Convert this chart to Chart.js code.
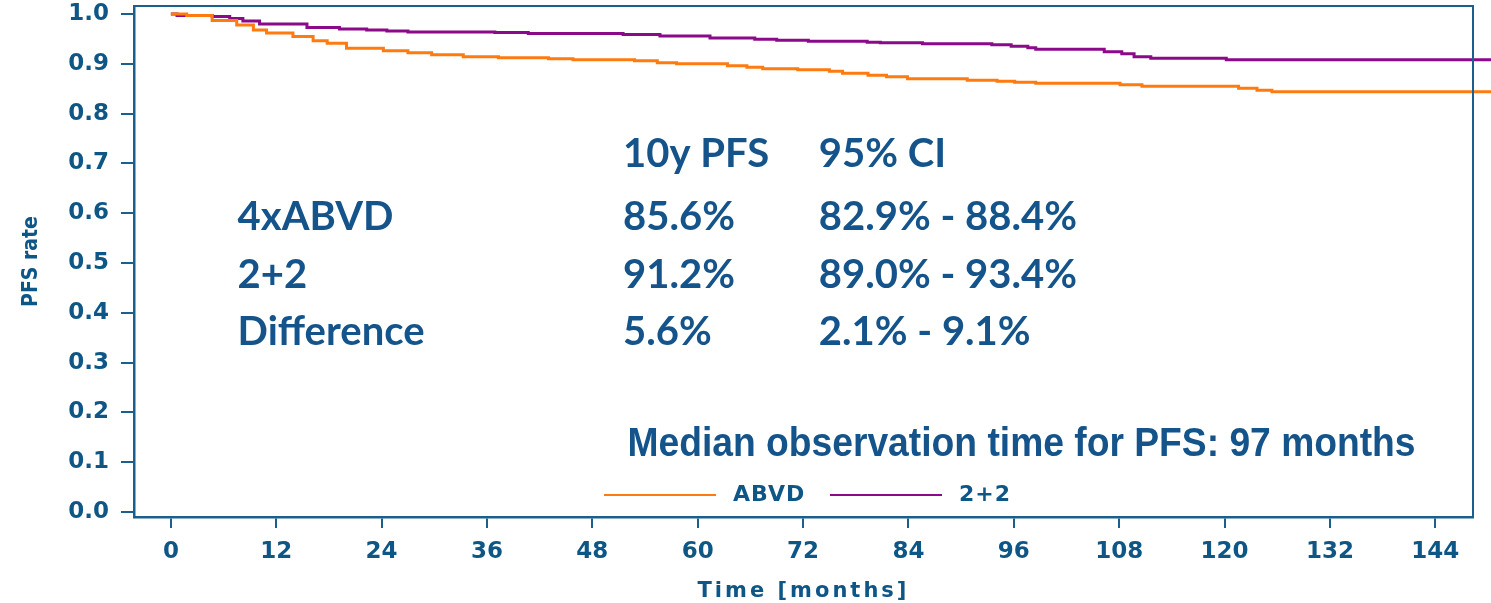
<!DOCTYPE html>
<html>
<head>
<meta charset="utf-8">
<script src="https://cdn.jsdelivr.net/npm/chart.js@4.4.1/dist/chart.umd.min.js"></script>
<style>
  html, body { margin:0; padding:0; background:#fff; }
  #wrap { width:1491px; height:603px; position:relative; }
</style>
</head>
<body>
<div id="wrap"><canvas id="pfsChart"></canvas></div>
<script>
'use strict';

// --- data (months, PFS rate) ---
const abvdMonths = [0, 1.8, 4.7, 7.5, 9.4, 10.9, 13.9, 16.2, 17.8, 20.0, 24.2, 27.0, 29.7, 33.3, 37.3, 43.0, 45.8, 52.8, 55.4, 57.6, 63.4, 65.6, 67.4, 71.4, 75.0, 76.5, 79.4, 81.5, 83.9, 90.7, 94.1, 96.1, 98.5, 108.1, 110.6, 121.6, 123.7, 125.4, 150.5];
const abvdPfs    = [1.0, 0.997, 0.987, 0.978, 0.968, 0.962, 0.955, 0.946, 0.941, 0.931, 0.926, 0.922, 0.918, 0.914, 0.912, 0.910, 0.908, 0.906, 0.902, 0.900, 0.896, 0.893, 0.890, 0.888, 0.885, 0.881, 0.877, 0.874, 0.870, 0.867, 0.865, 0.863, 0.861, 0.858, 0.855, 0.851, 0.847, 0.844, 0.844];

const twoTwoMonths = [0, 0.7, 4.7, 6.7, 8.2, 10.1, 15.5, 19.2, 22.3, 24.6, 27.0, 36.9, 40.7, 51.5, 55.7, 61.4, 66.5, 69.0, 72.6, 79.3, 80.8, 85.6, 93.5, 95.7, 97.6, 98.5, 106.3, 108.3, 109.7, 111.6, 120.2, 150.5];
const twoTwoPfs    = [1.0, 0.997, 0.995, 0.991, 0.986, 0.980, 0.973, 0.970, 0.968, 0.966, 0.964, 0.963, 0.961, 0.959, 0.956, 0.952, 0.949, 0.947, 0.945, 0.943, 0.942, 0.940, 0.938, 0.935, 0.932, 0.929, 0.924, 0.920, 0.914, 0.911, 0.908, 0.908];

const seriesNames = ['ABVD', '2+2'];
const xTicks = [0, 12, 24, 36, 48, 60, 72, 84, 96, 108, 120, 132, 144];
const yTicks = [0, 0.1, 0.2, 0.3, 0.4, 0.5, 0.6, 0.7, 0.8, 0.9, 1.0];
const xTitle = 'Time [months]';
const yTitle = 'PFS rate';

// --- text table on the plot ---
const tableHead = ['10y PFS', '95% CI'];
const tableRows = ['4xABVD', '2+2', 'Difference'];
const pfs10y    = ['85.6%', '91.2%', '5.6%'];
const ci95      = ['82.9% - 88.4%', '89.0% - 93.4%', '2.1% - 9.1%'];
const medianNote = 'Median observation time for PFS: 97 months';

// styling / placement (data units of the axes)
const BLUE = '#0d5686', AXIS = '#1b5f8e', TXT = '#14548a';
const ORANGE = '#ff7b0f', PURPLE = '#8a0a8a';
const tableCols = [7.6, 51.5, 73.8];            // months
const tableBase = [0.693, 0.566, 0.450, 0.335]; // header + 3 rows, baseline in PFS units
const noteAt = { x: 52.0, y: 0.112 };

const pts = (xs, ys) => xs.map((x, i) => ({ x, y: ys[i] }));

const boxPlugin = {
    id: 'box',
    afterDraw(chart) {
        const { ctx, chartArea: a } = chart;
        ctx.save();
        ctx.strokeStyle = AXIS; ctx.lineWidth = 2;
        ctx.beginPath();
        ctx.moveTo(a.left, a.top); ctx.lineTo(a.right, a.top); ctx.lineTo(a.right, a.bottom);
        ctx.stroke();
        ctx.restore();
    }
};

const textPlugin = {
    id: 'texts',
    afterDraw(chart) {
        const { ctx } = chart;
        const xs = chart.scales.x, ys = chart.scales.y;
        const X = v => xs.getPixelForValue(v), Y = v => ys.getPixelForValue(v);
        ctx.save();
        ctx.fillStyle = TXT;
        ctx.textBaseline = 'alphabetic';
        ctx.textAlign = 'left';
        ctx.font = 'bold 40px Lato, "Open Sans", sans-serif';
        ctx.fillText(tableHead[0], X(tableCols[1]), Y(tableBase[0]));
        ctx.fillText(tableHead[1], X(tableCols[2]), Y(tableBase[0]));
        tableRows.forEach((r, i) => {
            const y = Y(tableBase[i + 1]);
            ctx.fillText(r, X(tableCols[0]), y);
            ctx.fillText(pfs10y[i], X(tableCols[1]), y);
            ctx.fillText(ci95[i], X(tableCols[2]), y);
        });

        // narrow bold note: squeeze Liberation Sans horizontally like Arial Narrow
        ctx.save();
        ctx.font = 'bold 41px "Liberation Sans", Arial, sans-serif';
        ctx.translate(X(noteAt.x), Y(noteAt.y));
        ctx.scale(0.908, 1);
        ctx.fillText(medianNote, 0, 0);
        ctx.restore();

        // legend
        ctx.font = 'bold 22px "DejaVu Sans", sans-serif';
        ctx.letterSpacing = '1px';
        ctx.textBaseline = 'middle';
        const ly = 495;
        let lx = 604;
        chart.data.datasets.forEach(ds => {
            ctx.strokeStyle = ds.borderColor; ctx.lineWidth = 2;
            ctx.beginPath(); ctx.moveTo(lx, ly); ctx.lineTo(lx + 112, ly); ctx.stroke();
            ctx.fillStyle = BLUE;
            ctx.fillText(ds.label, lx + 129, ly);
            lx += 226;
        });

        // x title
        ctx.font = 'bold 21px "DejaVu Sans", sans-serif';
        ctx.letterSpacing = '3px';
        ctx.textAlign = 'center';
        ctx.fillText(xTitle, (chart.chartArea.left + chart.chartArea.right) / 2, 592);
        ctx.restore();
    }
};

new Chart(document.getElementById('pfsChart').getContext('2d'), {
    type: 'line',
    data: {
        datasets: [
            { label: seriesNames[0], data: pts(abvdMonths, abvdPfs), borderColor: ORANGE, borderWidth: 3, stepped: true, pointRadius: 0, fill: false, clip: { left: 0, top: 0, right: 20, bottom: 0 } },
            { label: seriesNames[1], data: pts(twoTwoMonths, twoTwoPfs), borderColor: PURPLE, borderWidth: 3, stepped: true, pointRadius: 0, fill: false, clip: { left: 0, top: 0, right: 20, bottom: 0 } }
        ]
    },
    options: {
        responsive: true, maintainAspectRatio: false, animation: false,
        layout: { padding: { top: 6, right: 18, left: 0, bottom: 0 } },
        plugins: { legend: { display: false }, tooltip: { enabled: false } },
        scales: {
            x: {
                type: 'linear', min: -4.2, max: 148.3,
                afterBuildTicks: s => { s.ticks = xTicks.map(v => ({ value: v })); },
                afterFit: s => { s.height = 86; s.paddingLeft = 0; s.paddingRight = 0; },
                grid: { drawOnChartArea: false, drawTicks: true, tickLength: 11, color: AXIS, lineWidth: 2 },
                border: { display: true, color: AXIS, width: 2.5 },
                ticks: { color: BLUE, padding: 10, maxRotation: 0, autoSkip: false, font: { family: '"DejaVu Sans", sans-serif', size: 23, weight: 'bold' }, callback: v => String(v) }
            },
            y: {
                type: 'linear', min: -0.010, max: 1.016,
                afterBuildTicks: s => { s.ticks = yTicks.map(v => ({ value: v })); },
                afterFit: s => { s.width = 134; s.paddingTop = 0; s.paddingBottom = 0; },
                grid: { drawOnChartArea: false, drawTicks: true, tickLength: 13, color: AXIS, lineWidth: 2 },
                border: { display: true, color: AXIS, width: 2.5 },
                ticks: { color: BLUE, padding: 12, autoSkip: false, font: { family: '"DejaVu Sans", sans-serif', size: 23, weight: 'bold' }, callback: v => v.toFixed(1) },
                title: { display: true, text: yTitle, color: BLUE, padding: { top: 19, bottom: 0 }, font: { family: '"Liberation Sans Narrow", "DejaVu Sans Condensed", sans-serif', size: 21, weight: 'bold' } }
            }
        }
    },
    plugins: [boxPlugin, textPlugin]
});
</script>
</body>
</html>
